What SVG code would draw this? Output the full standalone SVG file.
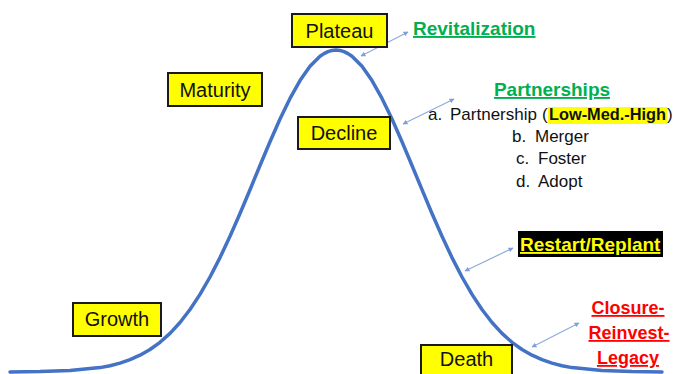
<svg xmlns="http://www.w3.org/2000/svg" width="675" height="374" viewBox="0 0 675 374">
<defs>
<marker id="ah" viewBox="0 0 10 10" refX="9" refY="5" markerWidth="5" markerHeight="5" orient="auto-start-reverse" markerUnits="userSpaceOnUse">
<path d="M0,0 L10,5 L0,10 z" fill="#7F9FD8"/>
</marker>
<style>
.box{fill:#FFFF00;stroke:#1a1a1a;stroke-width:2}
.lbl{font-family:"Liberation Sans",Arial,sans-serif;font-size:20px;fill:#111;text-anchor:middle}
.conn{stroke:#8FAADC;stroke-width:1.2;fill:none;marker-start:url(#ah);marker-end:url(#ah)}
.b{font-family:"Liberation Sans",Arial,sans-serif;font-weight:bold;text-decoration:underline}
.list{font-family:"Liberation Sans",Arial,sans-serif;font-size:17px;fill:#111}
</style>
</defs>
<rect width="675" height="374" fill="#fff"/>
<g id="curve">
<polyline fill="none" stroke="#4472C4" stroke-width="3.5" stroke-linejoin="round" stroke-linecap="round" points="10,371.9 40,371.6 70,370.6 100,367.6 110,365.7 120,363.1 130,359.7 140,355.2 150,349.5 160,342.3 170,333.4 180,322.5 190,309.5 200,294.4 210,277 220,257.6 230,236.3 240,213.5 250,189.7 260,165.5 270,141.7 280,119 290,98.4 300,80.6 310,66.3 320,56.3 324,53.6 328,51.6 332,50.4 336,50 340,50.4 344,51.6 348,53.6 352,56.3 362,66.3 372,80.6 382,98.4 392,119 402,141.7 412,165.5 422,189.7 432,213.5 442,236.3 452,257.6 462,277 472,294.4 482,309.5 492,322.5 502,333.4 512,342.3 522,349.5 532,355.2 542,359.7 552,363.1 562,365.7 572,367.6 602,370.6 632,371.6 662,371.9"/>
</g>
<g id="connectors">
<line class="conn" x1="361" y1="56" x2="408" y2="32"/>
<line class="conn" x1="403" y1="124" x2="454" y2="99"/>
<line class="conn" x1="465" y1="271" x2="513" y2="248"/>
<line class="conn" x1="532" y1="347" x2="579" y2="323"/>
</g>
<g id="plateau">
<rect class="box" x="292" y="14" width="95" height="33"/>
<text class="lbl" x="339.5" y="38">Plateau</text>
</g>
<g id="maturity">
<rect class="box" x="168" y="73" width="94" height="33"/>
<text class="lbl" x="215" y="97">Maturity</text>
</g>
<g id="decline">
<rect class="box" x="298" y="117" width="92" height="32"/>
<text class="lbl" x="344" y="140">Decline</text>
</g>
<g id="growth">
<rect class="box" x="73" y="303" width="88" height="33"/>
<text class="lbl" x="117" y="326">Growth</text>
</g>
<g id="death">
<rect class="box" x="421" y="345" width="91" height="40"/>
<text class="lbl" x="466.5" y="366">Death</text>
</g>
<g id="revitalization">
<text class="b" x="413" y="35" font-size="19" fill="#00B050">Revitalization</text>
</g>
<g id="partnerships">
<text class="b" x="552" y="96" font-size="19" fill="#00B050" text-anchor="middle">Partnerships</text>
<rect x="548" y="107" width="119" height="17" fill="#FFFF00"/>
<text class="list" y="120"><tspan x="428">a.</tspan><tspan x="450">Partnership</tspan><tspan x="542">(</tspan><tspan x="549" font-weight="bold" font-size="16" textLength="117" lengthAdjust="spacingAndGlyphs">Low-Med.-High</tspan><tspan x="667">)</tspan></text>
<text class="list" y="142"><tspan x="512">b.</tspan><tspan x="535">Merger</tspan></text>
<text class="list" y="164"><tspan x="516">c.</tspan><tspan x="538">Foster</tspan></text>
<text class="list" y="187"><tspan x="516">d.</tspan><tspan x="538">Adopt</tspan></text>
</g>
<g id="restart">
<rect x="518" y="231" width="145" height="26" fill="#000"/>
<text class="b" x="520" y="251" font-size="19" fill="#FFFF00">Restart/Replant</text>
</g>
<g id="closure">
<text class="b" font-size="18" fill="#FF0000" text-anchor="middle"><tspan x="628" y="314">Closure-</tspan><tspan x="629" y="339">Reinvest-</tspan><tspan x="628" y="364">Legacy</tspan></text>
</g>
</svg>
